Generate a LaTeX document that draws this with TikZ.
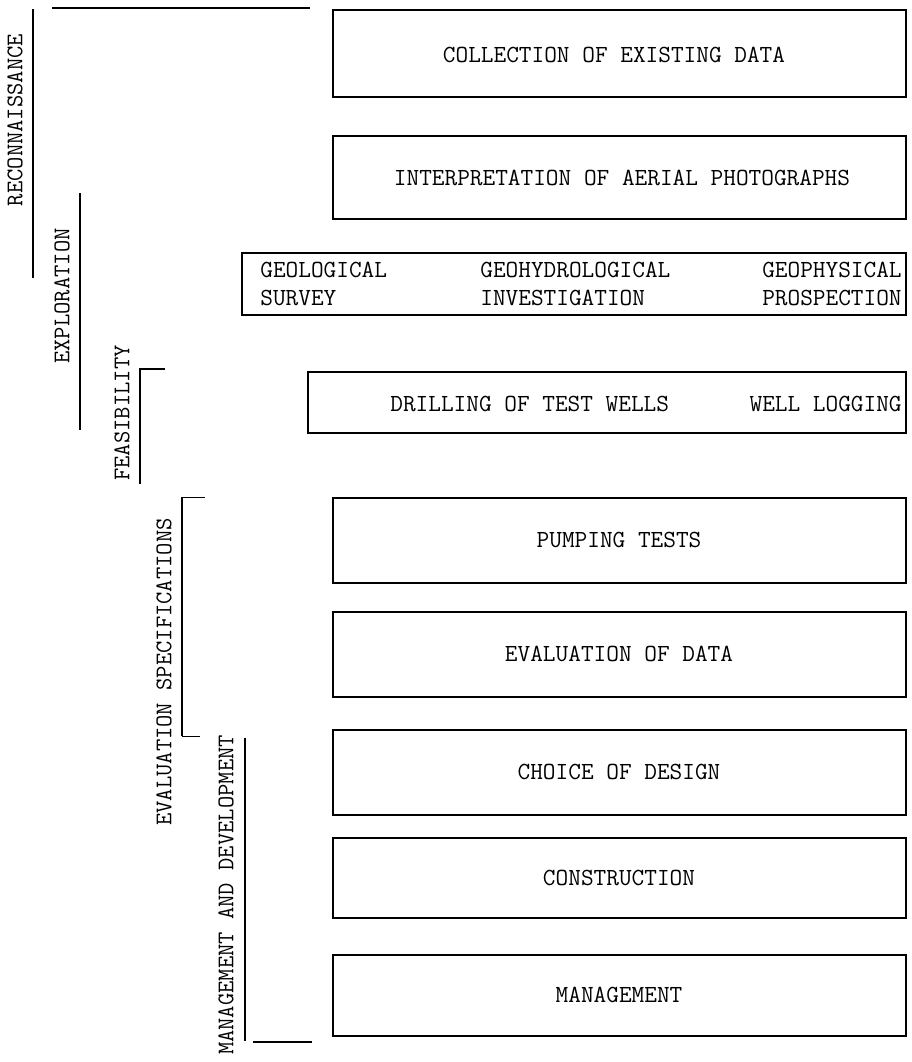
\documentclass[tikz,border=0pt]{standalone}
\usepackage{fontspec}
\usetikzlibrary{positioning}
\tikzset{
    stagetext/.style={font=\fontsize{14}{16}\ttfamily, inner sep=0pt},
    phasetext/.style={font=\fontsize{13.6}{16}\ttfamily, rotate=90, inner sep=0pt},
    frame/.style={line width=1.2pt},
    phaseline/.style={line width=1.1pt}
}
\begin{document}
\begin{tikzpicture}[x=0.02cm, y=-0.02cm]
    % Parameters
    \def\boxL{333}
    \def\boxR{906}

    \useasboundingbox (0,0) rectangle (912,1062);

    % Boxes
    \draw[frame] (\boxL,10) rectangle (\boxR,97);
    \draw[frame] (\boxL,136) rectangle (\boxR,219);
    \draw[frame] (242,253) rectangle (\boxR,315);
    \draw[frame] (308,372) rectangle (\boxR,433);
    \draw[frame] (\boxL,498) rectangle (\boxR,583);
    \draw[frame] (\boxL,612) rectangle (\boxR,697);
    \draw[frame] (\boxL,730) rectangle (\boxR,815);
    \draw[frame] (\boxL,838) rectangle (\boxR,918);
    \draw[frame] (\boxL,955) rectangle (\boxR,1036);

    % Texts in boxes
    \node[stagetext] (collect) at (614,55) {COLLECTION OF EXISTING DATA};
    \node[stagetext] (aerial) at (622,178) {INTERPRETATION OF AERIAL PHOTOGRAPHS};
    \node[stagetext, anchor=west, align=left] (geolsurvey) at (260,284) {GEOLOGICAL\\SURVEY};
    \node[stagetext, anchor=west, align=left] (geohydro) at (480,284) {GEOHYDROLOGICAL\\INVESTIGATION};
    \node[stagetext, anchor=east, align=right] (geophys) at (902,284) {GEOPHYSICAL\\PROSPECTION};
    \node[stagetext, anchor=west] (drilling) at (390,404) {DRILLING OF TEST WELLS};
    \node[stagetext, anchor=east] (logging) at (902,404) {WELL LOGGING};
    \node[stagetext] (pumping) at (619,540) {PUMPING TESTS};
    \node[stagetext] (evaldata) at (619,654) {EVALUATION OF DATA};
    \node[stagetext] (design) at (619,772) {CHOICE OF DESIGN};
    \node[stagetext] (construct) at (619,878) {CONSTRUCTION};
    \node[stagetext] (manage) at (619,995) {MANAGEMENT};

    % Phases on the left
    \node[phasetext] (reconn) at (15,120) {RECONNAISSANCE};
    \draw[phaseline] (33,9) -- (33,278);
    \draw[phaseline] (52,8) -- (310,8);

    \node[phasetext] (explor) at (62,296) {EXPLORATION};
    \draw[phaseline] (80,193) -- (80,430);

    \node[phasetext] (feasib) at (122,413) {FEASIBILITY};
    \draw[phaseline] (165,369) -- (140,369) -- (140,484);

    \node[phasetext] (evalspec) at (164,672) {EVALUATION SPECIFICATIONS};
    \draw[phaseline] (182,497) -- (182,736);
    \draw[thin] (182,497) -- (205,497);
    \draw[thin] (182,736) -- (200,736);

    \node[phasetext] (mandev) at (226,895) {MANAGEMENT AND DEVELOPMENT};
    \draw[phaseline] (245,738) -- (245,1041);
    \draw[phaseline] (253,1042) -- (312,1042);
\end{tikzpicture}
\end{document}
